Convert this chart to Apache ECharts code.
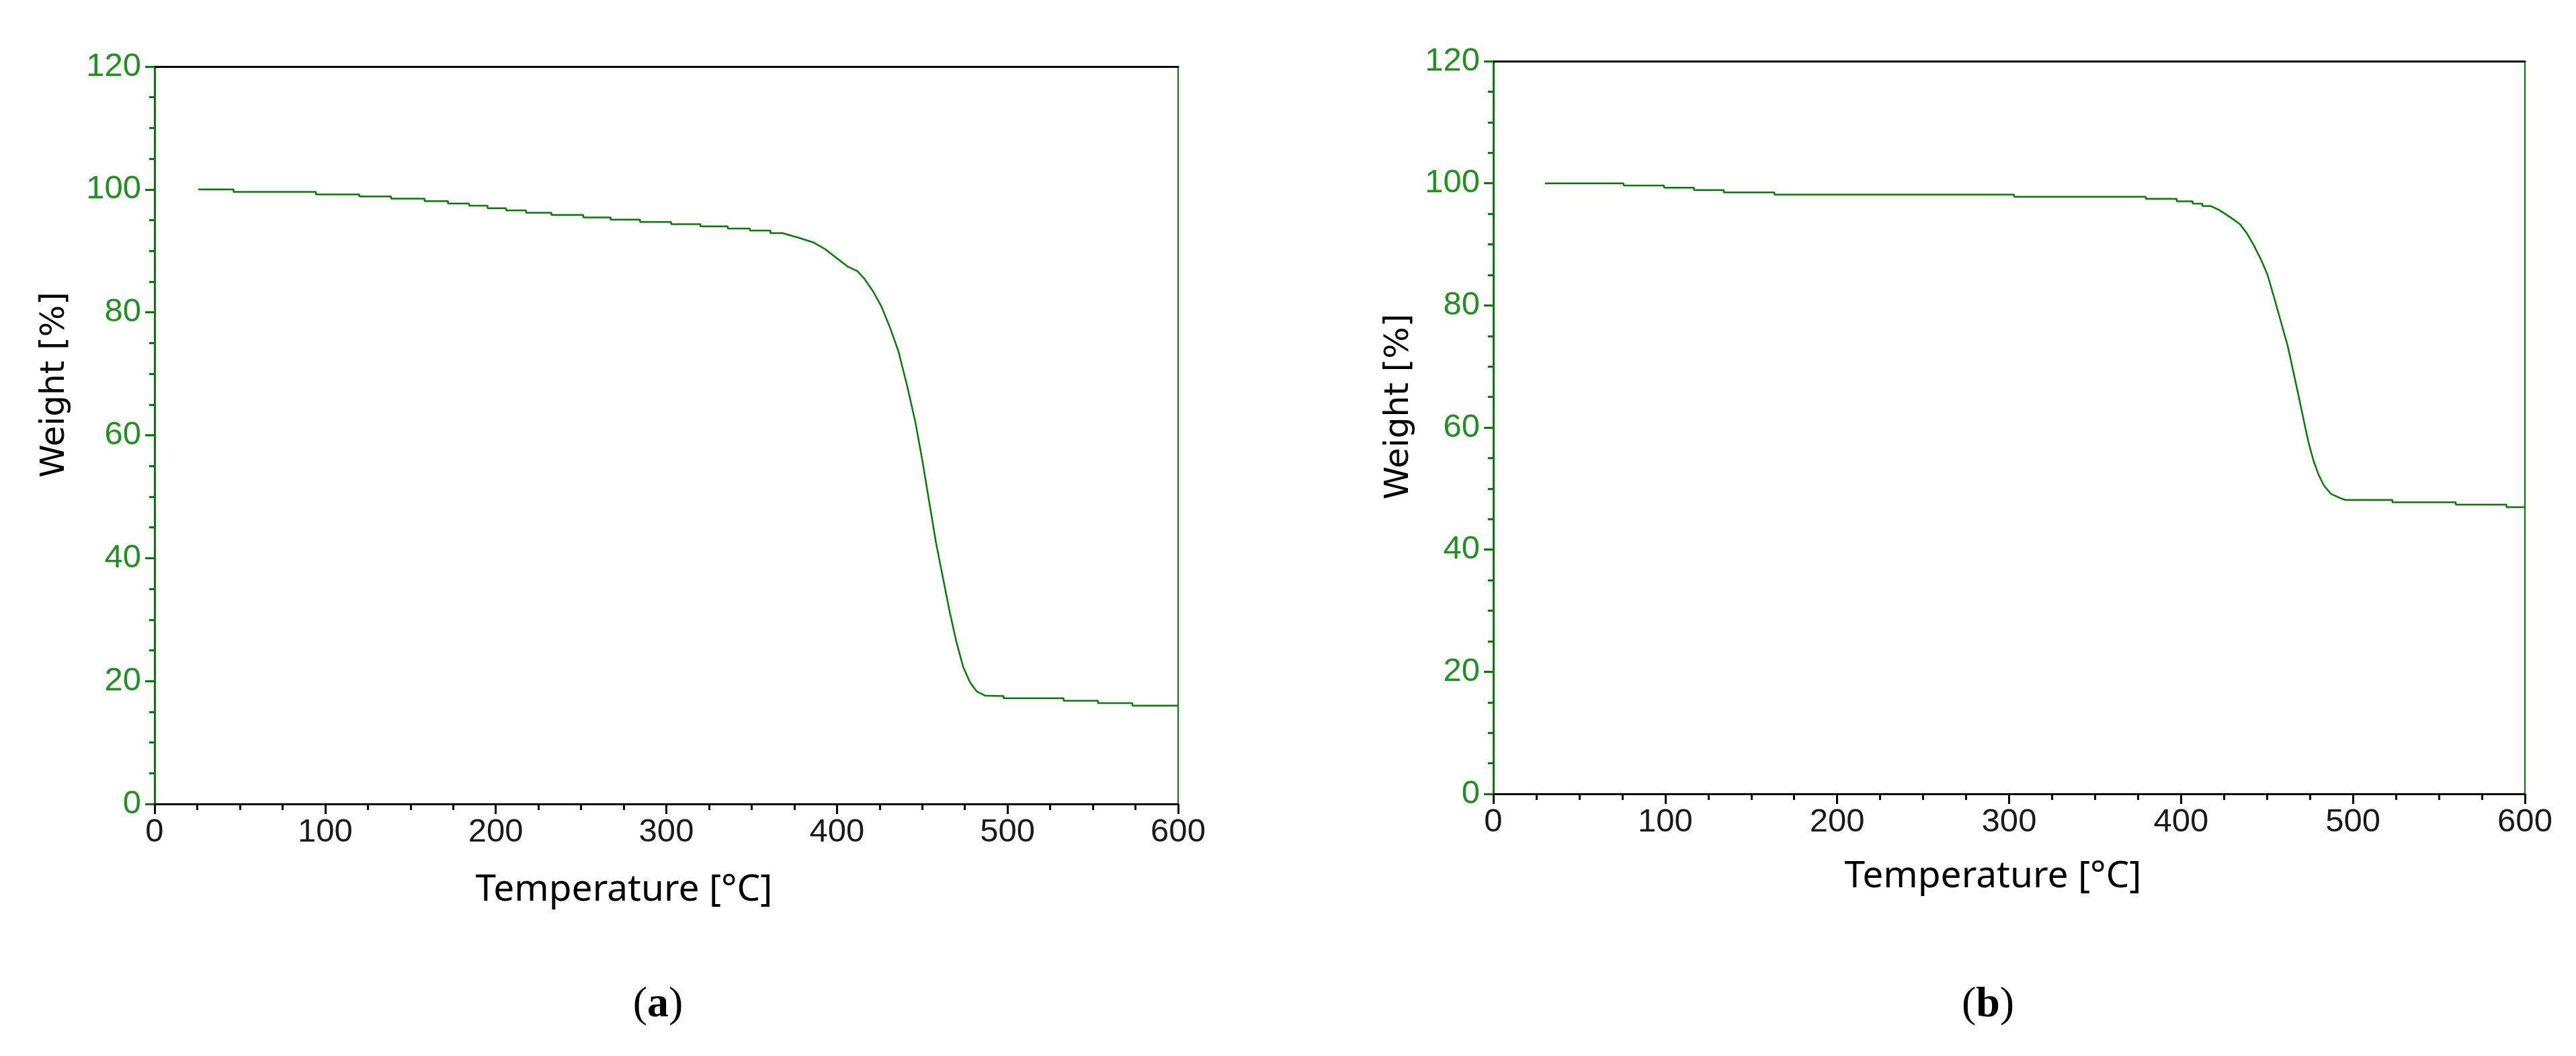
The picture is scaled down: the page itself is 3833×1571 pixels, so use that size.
<!DOCTYPE html>
<html>
<head>
<meta charset="utf-8">
<script src="https://cdn.jsdelivr.net/npm/echarts@6/dist/echarts.min.js"></script>
<style>
  html, body { margin: 0; padding: 0; background: #ffffff; }
  #chart { width: 3833px; height: 1571px; }
</style>
</head>
<body>
<div id="chart"></div>
<script>
// ---- Data (Temperature °C, Weight %) ----
const tempA = [25.6, 46.3, 46.3, 94.6, 94.6, 120, 120, 138.6, 138.6, 158.3, 158.3, 172, 172, 184.4, 184.4, 195.2, 195.2, 206, 206, 217.8, 217.8, 232.6, 232.6, 251.3, 251.3, 267.3, 267.3, 284.6, 284.6, 302.8, 302.8, 320, 320, 336, 336, 349, 349, 361, 361, 368,
  378, 386, 393, 400, 406, 412, 416, 421, 426, 431, 436, 441, 446, 450, 454, 458, 462, 466, 470, 474, 478, 482, 487,
  497.7, 497.7, 532.9, 532.9, 553, 553, 573.2, 573.2, 600];
const weightA = [100.0, 100.0, 99.6, 99.6, 99.2, 99.2, 98.85, 98.85, 98.5, 98.5, 98.1, 98.1, 97.7, 97.7, 97.35, 97.35, 96.95, 96.95, 96.6, 96.6, 96.2, 96.2, 95.85, 95.85, 95.45, 95.45, 95.1, 95.1, 94.7, 94.7, 94.35, 94.35, 94.0, 94.0, 93.65, 93.65, 93.3, 93.3, 92.9, 92.9,
  92.1, 91.4, 90.3, 88.8, 87.5, 86.7, 85.5, 83.5, 81.0, 77.6, 73.7, 68.2, 62.1, 56.0, 49.3, 42.6, 37.0, 31.4, 26.4, 22.3, 19.8, 18.3, 17.6,
  17.55, 17.2, 17.2, 16.8, 16.8, 16.4, 16.4, 16.0, 16.0];

const tempB = [30, 75.8, 75.8, 99.3, 99.3, 116.7, 116.7, 134, 134, 163.5, 163.5, 302.9, 302.9, 379.5, 379.5, 397.5, 397.5, 406.8, 406.8, 412.4, 412.4, 417.4,
  422.3, 428.3, 434.3, 438.3, 442.2, 446.3, 450.2, 454.2, 458.2, 462.1, 465.1, 468.2, 471.1, 474.1, 477.1, 480.1, 483.1, 487.1, 492, 495.6,
  522.9, 522.9, 559.8, 559.8, 589.3, 589.3, 600];
const weightB = [100, 100, 99.63, 99.63, 99.27, 99.27, 98.9, 98.9, 98.5, 98.5, 98.15, 98.15, 97.78, 97.78, 97.45, 97.45, 97.05, 97.05, 96.66, 96.66, 96.27, 96.27,
  95.6, 94.5, 93.3, 91.8, 89.9, 87.6, 85.1, 81.2, 77.2, 73.3, 69.4, 65.4, 61.5, 57.6, 54.5, 52.2, 50.5, 49.15, 48.5, 48.14,
  48.14, 47.75, 47.75, 47.36, 47.36, 46.96, 46.96];

// ---- Axis ranges / texts ----
const xRange = [0, 600];
const xStep = 100;
const yRange = [0, 120];
const yStep = 20;
const xName = 'Temperature [°C]';
const yName = 'Weight [%]';
const captions = ['a', 'b'];

const GREEN = '#008000';
const GREEN_TXT = '#1f911f';

function pairs(xs, ys) { return xs.map((x, i) => [x, ys[i]]); }

function mainX(gi, nameGap, shift) {
  return {
    gridIndex: gi, type: 'value', position: 'bottom', min: xRange[0], max: xRange[1], interval: xStep,
    axisLine: { show: true, onZero: false, lineStyle: { color: '#000', width: 3 } },
    axisTick: { show: true, length: 15, lineStyle: { color: '#000', width: 3 } },
    minorTick: { show: true, splitNumber: 4, length: 9, lineStyle: { color: '#000', width: 3 } },
    splitLine: { show: false }, minorSplitLine: { show: false },
    axisLabel: { color: '#1a1a1a', fontSize: 49, fontFamily: 'Liberation Sans', margin: 18, showMinLabel: true, showMaxLabel: true },
    name: xName, nameLocation: 'middle', nameGap: nameGap,
    nameTextStyle: { color: '#000', fontSize: 55, fontFamily: 'Noto Sans', padding: [0, shift * 2, 0, 0] }
  };
}
function topX(gi) {
  return {
    gridIndex: gi, type: 'value', position: 'top', min: xRange[0], max: xRange[1],
    axisLine: { show: true, onZero: false, lineStyle: { color: '#000', width: 3 } },
    axisTick: { show: false }, axisLabel: { show: false }, splitLine: { show: false }
  };
}
function mainY(gi, nameGap, shift) {
  return {
    gridIndex: gi, type: 'value', position: 'left', min: yRange[0], max: yRange[1], interval: yStep,
    axisLine: { show: true, onZero: false, lineStyle: { color: GREEN, width: 3 } },
    axisTick: { show: true, length: 14, lineStyle: { color: GREEN, width: 3 } },
    minorTick: { show: true, splitNumber: 4, length: 8, lineStyle: { color: GREEN, width: 3 } },
    splitLine: { show: false }, minorSplitLine: { show: false },
    axisLabel: { color: GREEN_TXT, fontSize: 49, fontFamily: 'Liberation Sans', margin: 20, showMinLabel: true, showMaxLabel: true },
    name: yName, nameLocation: 'middle', nameGap: nameGap,
    nameTextStyle: { color: '#000', fontSize: 50, fontFamily: 'DejaVu Sans', padding: [0, 0, 0, shift * 2] }
  };
}
function rightY(gi) {
  return {
    gridIndex: gi, type: 'value', position: 'right', min: yRange[0], max: yRange[1],
    axisLine: { show: true, onZero: false, lineStyle: { color: GREEN, width: 2 } },
    axisTick: { show: false }, axisLabel: { show: false }, splitLine: { show: false }
  };
}

const chart = echarts.init(document.getElementById('chart'), null, { renderer: 'canvas' });
chart.setOption({
  animation: false,
  backgroundColor: '#ffffff',
  grid: [
    { left: 230, top: 99, width: 1523, height: 1097 },
    { left: 2222, top: 91, width: 1535, height: 1090 }
  ],
  xAxis: [mainX(0, 101, 63), topX(0), mainX(1, 96, 24), topX(1)],
  yAxis: [mainY(0, 123, 75), rightY(0), mainY(1, 115, 31), rightY(1)],
  series: [
    { type: 'line', xAxisIndex: 0, yAxisIndex: 0, data: pairs(tempA, weightA), showSymbol: false,
      lineStyle: { color: GREEN, width: 2.5 }, z: 3 },
    { type: 'line', xAxisIndex: 2, yAxisIndex: 2, data: pairs(tempB, weightB), showSymbol: false,
      lineStyle: { color: GREEN, width: 2.5 }, z: 3 }
  ],
  graphic: [
    { type: 'text', x: 979, y: 1495, style: {
      text: '{p|(}{b|' + captions[0] + '}{p|)}', align: 'center', verticalAlign: 'middle',
      rich: { p: { fontFamily: 'Liberation Serif', fontSize: 64, fill: '#000' },
              b: { fontFamily: 'Liberation Serif', fontSize: 64, fontWeight: 'bold', fill: '#000' } } } },
    { type: 'text', x: 2958, y: 1495, style: {
      text: '{p|(}{b|' + captions[1] + '}{p|)}', align: 'center', verticalAlign: 'middle',
      rich: { p: { fontFamily: 'Liberation Serif', fontSize: 64, fill: '#000' },
              b: { fontFamily: 'Liberation Serif', fontSize: 64, fontWeight: 'bold', fill: '#000' } } } }
  ]
});
</script>
</body>
</html>
